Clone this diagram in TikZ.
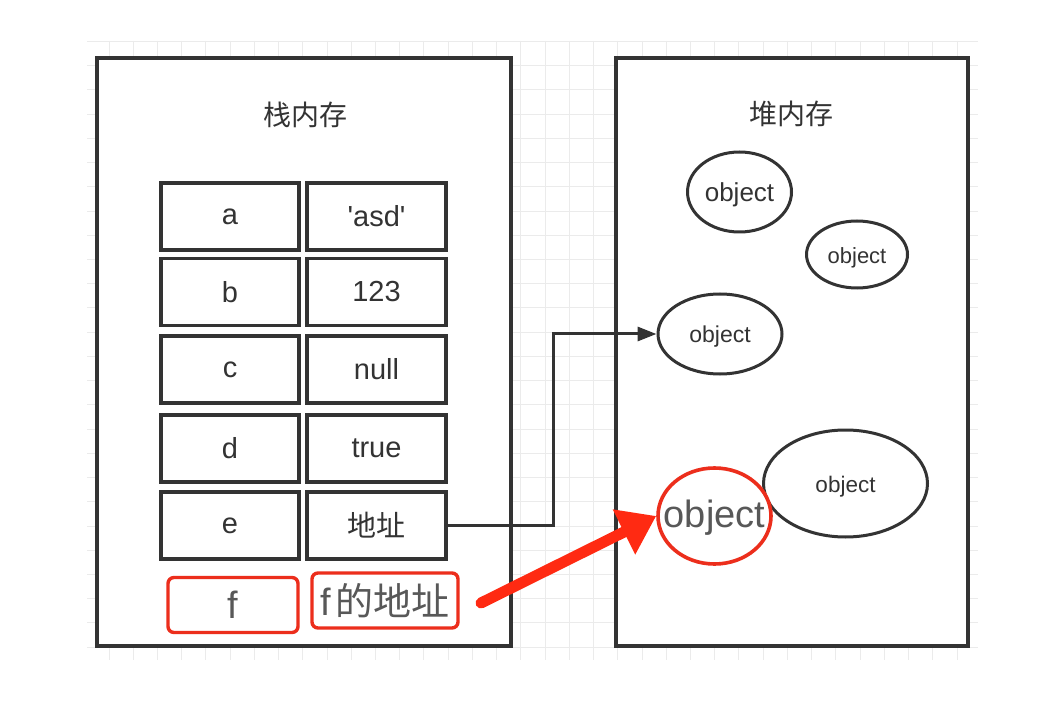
\documentclass[tikz,border=0pt]{standalone}
\usepackage{fontspec}
\setmainfont{Liberation Sans}
\newfontfamily\plain{Liberation Sans}
\newfontfamily\cjk{Noto Sans CJK SC}
\usetikzlibrary{arrows.meta,shapes.geometric}
\definecolor{ink}{HTML}{333333}
\definecolor{soft}{HTML}{585858}
\definecolor{gridc}{HTML}{EBEBEB}
\definecolor{redline}{HTML}{EC2E1C}
\definecolor{redarrow}{HTML}{FF2A12}
\tikzset{
  panel/.style={draw=ink, line width=3.2pt, fill=white, minimum width=#1, minimum height=588pt, inner sep=0pt},
  cell/.style={draw=ink, line width=3.2pt, fill=white, minimum height=67pt, minimum width=#1, inner sep=0pt,
               font=\plain\fontsize{29}{34}\selectfont, text=ink},
  redcell/.style={draw=redline, line width=3.4pt, rounded corners=6pt, fill=white, minimum width=#1,
               minimum height=55pt, inner sep=0pt, font=\plain\fontsize{38}{44}\selectfont, text=soft},
  obj/.style={ellipse, draw=ink, line width=3pt, fill=white, inner sep=0pt},
  objtext/.style={inner sep=0pt, text=ink, yshift=-3pt, font=\plain\fontsize{#1}{#1}\selectfont},
  title/.style={font=\cjk\fontsize{28}{32}\selectfont, text=ink},
  link/.style={draw=ink, line width=3pt, -{Triangle[length=19pt,width=14pt]}},
  bigarrow/.style={draw=redarrow, line width=11pt, line cap=round, -{Triangle[length=36pt,width=48pt]}},
}
\begin{document}
\begin{tikzpicture}[x=1pt,y=-1pt]
\useasboundingbox (0,0) rectangle (1038,708);
\fill[white] (0,0) rectangle (1038,708);
% grid background
\begin{scope}
  \clip (87,41) rectangle (978,660);
  \foreach \k in {-1,...,36} \draw[gridc, line width=1pt] ({109+24.23*\k},41) -- ({109+24.23*\k},660);
  \foreach \k in {-1,...,25} \draw[gridc, line width=1pt] (87,{65.7+24.23*\k}) -- (978,{65.7+24.23*\k});
\end{scope}
% panels
\node[panel=414pt] (stack) at (304,352) {};
\node[panel=352pt] (heap) at (792,352) {};
\node[title] (stitle) at (305,115) {栈内存};
\node[title] (htitle) at (791,114) {堆内存};
% stack cells
\node[cell=138pt] (k1) at (230,216.5) {a};
\node[cell=139pt] (v1) at (376.5,216.5) {'asd'};
\node[cell=138pt] (k2) at (230,292) {b};
\node[cell=139pt] (v2) at (376.5,292) {123};
\node[cell=138pt] (k3) at (230,369.5) {c};
\node[cell=139pt] (v3) at (376.5,369.5) {null};
\node[cell=138pt] (k4) at (230,448.5) {d};
\node[cell=139pt] (v4) at (376.5,448.5) {true};
\node[cell=138pt] (k5) at (230,525.5) {e};
\node[cell=139pt] (v5) at (376.5,525.5) {\cjk 地址};
\node[redcell=130pt] (k6) at (233,605) {f};
\node[redcell=146pt] (v6) at (385,600.5) {f\hspace{5pt}{\cjk 的地址}};
% heap objects
\node[obj, minimum width=104pt, minimum height=80pt] (o1) at (739.5,192) {};
\node[objtext=26] (o1t) at (o1.center) {object};
\node[obj, minimum width=101pt, minimum height=67pt] (o2) at (857,254.5) {};
\node[objtext=22] (o2t) at (o2.center) {object};
\node[obj, minimum width=124pt, minimum height=80pt] (o3) at (720,334) {};
\node[objtext=23] (o3t) at (o3.center) {object};
\node[obj, minimum width=164pt, minimum height=107pt] (o5) at (845.5,483.5) {};
\node[objtext=22.5] (o5t) at (o5.center) {object};
\node[obj, draw=redline, line width=3.6pt, minimum width=113pt, minimum height=96pt] (o4) at (714.5,516) {};
\node[objtext=38, text=soft, yshift=1pt] (o4t) at (o4.center) {object};
% connectors
\draw[link] (v5.east) -- ++(106,0) |- (o3.west);
\coordinate (rstart) at (481,603);
\draw[bigarrow] (rstart) -- (o4.west);
\end{tikzpicture}
\end{document}
